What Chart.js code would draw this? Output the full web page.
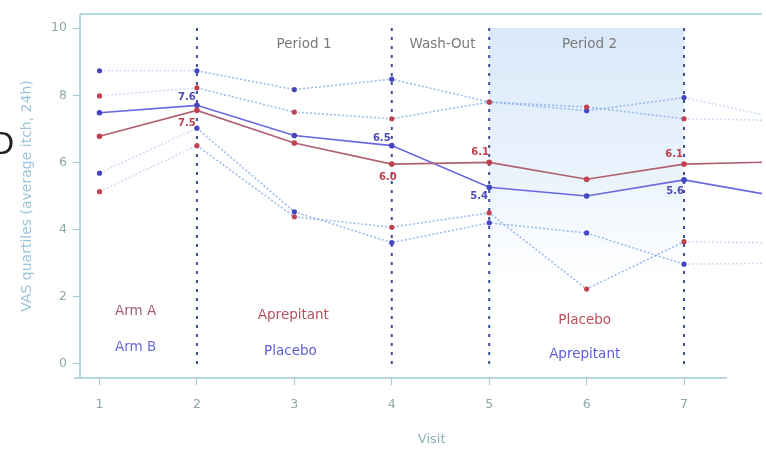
<!DOCTYPE html>
<html>
<head>
<meta charset="utf-8">
<script src="https://cdn.jsdelivr.net/npm/chart.js@4.4.0/dist/chart.umd.min.js"></script>
<style>
  html, body { margin: 0; padding: 0; background: #fff; }
  #wrap { width: 766px; height: 453px; }
</style>
</head>
<body>
<div id="wrap"><canvas id="c" width="766" height="453"></canvas></div>
<script>
// visits (the 8th value only carries the lines past the right edge)
const visits = [1, 2, 3, 4, 5, 6, 7, 8];
const xTicks = [1, 2, 3, 4, 5, 6, 7];
const yTicks = [0, 2, 4, 6, 8, 10];

// medians
const armAMedian = [6.78, 7.55, 6.58, 5.95, 6.0, 5.5, 5.95, 6.02];
const armBMedian = [7.48, 7.7, 6.8, 6.5, 5.26, 5.0, 5.48, 4.97];
// upper / lower quartiles
const armAUpper = [7.98, 8.22, 7.5, 7.3, 7.8, 7.65, 7.3, 7.25];
const armBUpper = [8.73, 8.73, 8.17, 8.48, 7.8, 7.54, 7.93, 7.3];
const armALower = [5.13, 6.5, 4.38, 4.07, 4.5, 2.23, 3.64, 3.6];
const armBLower = [5.68, 7.02, 4.53, 3.61, 4.2, 3.9, 2.97, 3.0];

// printed median labels
const armALabels = ['', '7.5', '', '6.0', '6.1', '', '6.1', ''];
const armBLabels = ['', '7.6', '', '6.5', '5.4', '', '5.6', ''];

const phaseLines = [2, 4, 5, 7];
const periodTitles = [
    { text: 'Period 1', x: 3.1, y: 9.5 },
    { text: 'Wash-Out', x: 4.52, y: 9.5 },
    { text: 'Period 2', x: 6.03, y: 9.5 }
];
const armTexts = [
    { text: 'Arm A', x: 1.37, y: 1.55, color: '#a5606e' },
    { text: 'Arm B', x: 1.37, y: 0.5, color: '#6c6cd6' },
    { text: 'Aprepitant', x: 2.99, y: 1.43, color: '#b8505c' },
    { text: 'Placebo', x: 2.96, y: 0.36, color: '#5c5cd8' },
    { text: 'Placebo', x: 5.98, y: 1.3, color: '#b8505c' },
    { text: 'Aprepitant', x: 5.98, y: 0.27, color: '#5c5cd8' }
];

const FONT = '"DejaVu Sans", "Liberation Sans", Arial, sans-serif';
const RED = '#c04250';
const BLUE = '#4646c0';
const QUART = 'rgba(140, 178, 235, 0.85)';

function toPoints(ys) {
    return visits.map((v, i) => ({ x: v, y: ys[i] }));
}

function quartileSet(ys, pointColor) {
    return {
        data: toPoints(ys),
        borderColor: QUART,
        borderWidth: 1.6,
        borderDash: [2, 2],
        pointRadius: 2.6,
        pointBackgroundColor: pointColor,
        pointBorderWidth: 0,
        segment: {
            borderColor: ctx => (ctx.p0DataIndex === 0 || ctx.p0DataIndex === 6) ? 'rgba(150,185,235,0.45)' : QUART
        }
    };
}

function medianSet(ys, lineColor, pointColor) {
    return {
        data: toPoints(ys),
        borderColor: lineColor,
        borderWidth: 1.6,
        pointRadius: 2.8,
        pointBackgroundColor: pointColor,
        pointBorderWidth: 0
    };
}

// backgrounds: shaded period 2 and the dotted phase separators
const backdrop = {
    id: 'backdrop',
    beforeDatasetsDraw(chart) {
        const { ctx, scales: { x, y } } = chart;
        ctx.save();
        const x0 = x.getPixelForValue(5), x1 = x.getPixelForValue(7);
        const top = y.getPixelForValue(10), bot = y.getPixelForValue(2.4);
        const g = ctx.createLinearGradient(0, top, 0, bot);
        g.addColorStop(0, 'rgba(210, 228, 248, 0.85)');
        g.addColorStop(0.6, 'rgba(218, 234, 250, 0.55)');
        g.addColorStop(1, 'rgba(228, 240, 252, 0)');
        ctx.fillStyle = g;
        ctx.fillRect(x0, top, x1 - x0, bot - top);

        ctx.strokeStyle = '#3e4f96';
        ctx.lineWidth = 2;
        ctx.setLineDash([3, 6]);
        phaseLines.forEach(v => {
            const px = x.getPixelForValue(v);
            ctx.beginPath();
            ctx.moveTo(px, y.getPixelForValue(10));
            ctx.lineTo(px, y.getPixelForValue(0));
            ctx.stroke();
        });
        ctx.restore();
    },
    afterDraw(chart) {
        const { ctx, chartArea: a, scales: { x, y } } = chart;
        ctx.save();
        // frame
        ctx.strokeStyle = '#9fcbd9';
        ctx.lineWidth = 1.5;
        ctx.beginPath();
        ctx.moveTo(a.left, a.top);
        ctx.lineTo(a.right, a.top);
        ctx.moveTo(a.left, a.top);
        ctx.lineTo(a.left, a.bottom);
        ctx.moveTo(a.left - 6, a.bottom);
        ctx.lineTo(x.getPixelForValue(7.44), a.bottom);
        ctx.stroke();

        ctx.textAlign = 'center';
        ctx.textBaseline = 'middle';
        ctx.font = '13.5px ' + FONT;
        ctx.fillStyle = '#7a7a7a';
        periodTitles.forEach(t => ctx.fillText(t.text, x.getPixelForValue(t.x), y.getPixelForValue(t.y)));
        armTexts.forEach(t => {
            ctx.fillStyle = t.color;
            ctx.fillText(t.text, x.getPixelForValue(t.x), y.getPixelForValue(t.y));
        });

        // axis title of the x axis
        ctx.fillStyle = '#8fb0b8';
        ctx.font = '13px ' + FONT;
        ctx.fillText('Visit', x.getPixelForValue(4.41), 440);

        // median labels
        ctx.font = 'bold 10px ' + FONT;
        const aPts = chart.getDatasetMeta(4).data;
        const bPts = chart.getDatasetMeta(5).data;
        const aOff = { 1: [-10, 13], 3: [-4, 13], 4: [-9, -10], 6: [-10, -10] };
        const bOff = { 1: [-10, -8], 3: [-10, -7], 4: [-10, 9], 6: [-9, 12] };
        ctx.fillStyle = '#c0404e';
        armALabels.forEach((s, i) => {
            if (!s) return;
            ctx.fillText(s, aPts[i].x + aOff[i][0], aPts[i].y + aOff[i][1]);
        });
        ctx.fillStyle = '#4a4ab8';
        armBLabels.forEach((s, i) => {
            if (!s) return;
            ctx.fillText(s, bPts[i].x + bOff[i][0], bPts[i].y + bOff[i][1]);
        });

        // panel letter, cut at the left edge
        ctx.fillStyle = '#222';
        ctx.font = '32px "Liberation Sans", Arial, sans-serif';
        ctx.textAlign = 'left';
        ctx.fillText('D', -9, 145);
        ctx.restore();
    }
};

const chart = new Chart(document.getElementById('c'), {
    type: 'line',
    data: {
        datasets: [
            quartileSet(armAUpper, RED),
            quartileSet(armBUpper, BLUE),
            quartileSet(armALower, RED),
            quartileSet(armBLower, BLUE),
            medianSet(armAMedian, '#b0606e', RED),
            medianSet(armBMedian, '#6868e0', BLUE)
        ]
    },
    options: {
        responsive: false,
        animation: false,
        layout: { padding: { top: 14, left: 0, right: 0, bottom: 0 } },
        plugins: { legend: { display: false }, tooltip: { enabled: false } },
        scales: {
            x: {
                type: 'linear',
                min: 0.8,
                max: 7.8,
                afterFit: s => { s.height = 75; },
                afterBuildTicks: s => { s.ticks = xTicks.map(v => ({ value: v })); },
                grid: { drawOnChartArea: false, color: '#9fcbd9', tickLength: 7 },
                border: { display: false },
                ticks: { color: '#8fa6ab', padding: 12, font: { size: 12.5, family: FONT } }
            },
            y: {
                min: -0.42,
                max: 10.42,
                afterFit: s => { s.width = 80; },
                afterBuildTicks: s => { s.ticks = yTicks.map(v => ({ value: v })); },
                grid: { drawOnChartArea: false, color: '#9fcbd9', tickLength: 7 },
                border: { display: false },
                ticks: { color: '#8fa6ab', padding: 6, font: { size: 12.5, family: FONT } },
                title: {
                    display: true, text: 'VAS quartiles (average itch, 24h)', color: '#9cc4da',
                    padding: { top: 19 }, font: { size: 14, family: FONT }
                }
            }
        }
    },
    plugins: [backdrop]
});
</script>
</body>
</html>
